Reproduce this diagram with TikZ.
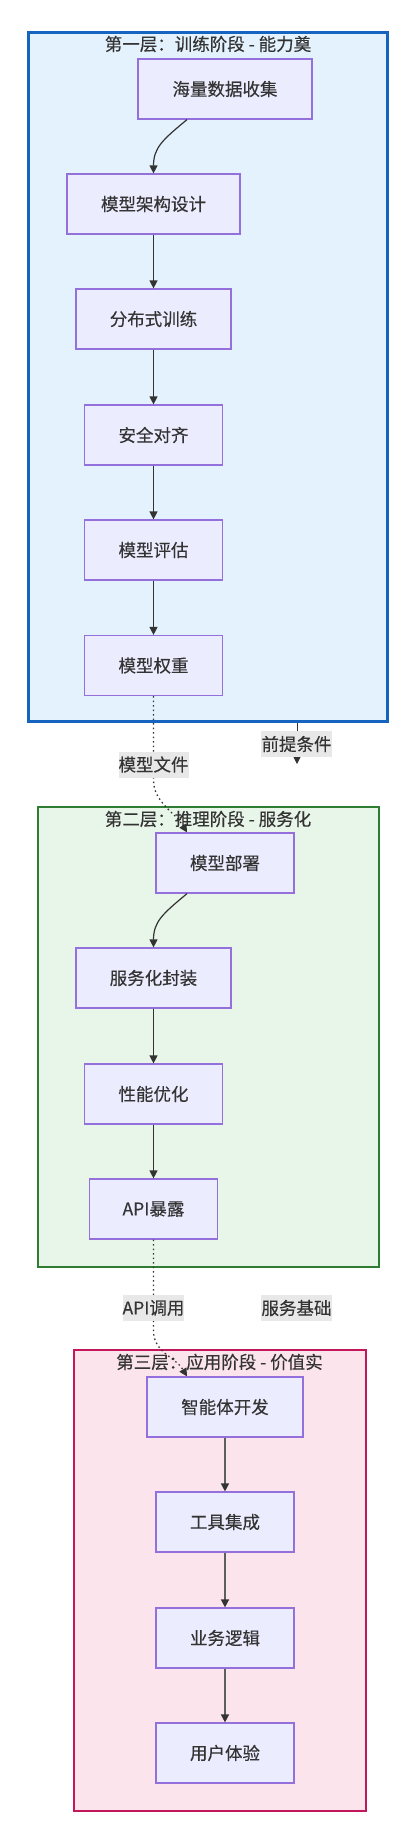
\documentclass[tikz,border=0pt]{standalone}
\usepackage{fontspec}
\setmainfont[UprightFeatures={FakeBold=0.3}]{Noto Sans CJK SC}
\usetikzlibrary{arrows.meta}
\definecolor{nodefill}{HTML}{ECECFF}
\definecolor{nodedraw}{HTML}{9370DB}
\definecolor{txt}{HTML}{333333}
\definecolor{bluefill}{HTML}{E3F2FD}
\definecolor{bluedraw}{HTML}{1565C0}
\definecolor{greenfill}{HTML}{E8F5E9}
\definecolor{greendraw}{HTML}{2E7D32}
\definecolor{pinkfill}{HTML}{FCE4EC}
\definecolor{pinkdraw}{HTML}{C2185B}
\definecolor{lblfill}{HTML}{E8E8E8}
\definecolor{grayline}{HTML}{5E5E5E}
\begin{document}
\begin{tikzpicture}[x=1pt,y=-1pt,
  font=\fontsize{17.5}{21}\selectfont, text=txt,
  stepbox/.style={draw=nodedraw, fill=nodefill, line width=1.2pt, minimum height=60pt, inner sep=0pt},
  flow/.style={draw=txt, line width=1.2pt, -{Triangle[length=8pt,width=8pt]}},
  grayflow/.style={draw=grayline, line width=1.4pt, -{Triangle[length=8pt,width=8pt,color=txt]}},
  dotflow/.style={draw=txt, line width=1.3pt, dash pattern=on 1.5pt off 3pt, -{Triangle[length=8pt,width=8pt]}},
  elabel/.style={fill=lblfill, inner sep=0pt, minimum height=26pt}
]
\useasboundingbox (0,0) rectangle (417,1842);
\fill[white] (0,0) rectangle (417,1842);

% layers
\node[draw=bluedraw, fill=bluefill, line width=3pt, minimum width=359pt, minimum height=689pt, inner sep=0pt] (L1) at (208,377) {};
\node[draw=greendraw, fill=greenfill, line width=2pt, minimum width=341pt, minimum height=460pt, inner sep=0pt] (L2) at (208,1036.5) {};
\node[draw=pinkdraw, fill=pinkfill, line width=2pt, minimum width=292pt, minimum height=461pt, inner sep=0pt] (L3) at (219.5,1580) {};

\node (T1) at (208,44) {第一层：训练阶段 - 能力奠};
\node (T2) at (208,819) {第二层：推理阶段 - 服务化};
\node (T3) at (219.5,1362) {第三层：应用阶段 - 价值实};

% steps
\node[stepbox, minimum width=174pt] (A) at (225,89) {海量数据收集};
\node[stepbox, minimum width=173pt] (B) at (153.5,204) {模型架构设计};
\node[stepbox, minimum width=155pt] (C) at (153.5,319) {分布式训练};
\node[stepbox, minimum width=138pt] (D) at (153.5,435) {安全对齐};
\node[stepbox, minimum width=138pt] (E) at (153.5,550) {模型评估};
\node[stepbox, minimum width=138pt] (F) at (153.5,665.5) {模型权重};

\node[stepbox, minimum width=138pt] (G) at (225,863) {模型部署};
\node[stepbox, minimum width=155pt] (H) at (153.5,978) {服务化封装};
\node[stepbox, minimum width=138pt] (I) at (153.5,1094) {性能优化};
\node[stepbox, minimum width=128pt] (J) at (153.5,1209) {API暴露};

\node[stepbox, minimum width=156pt] (K) at (225,1407) {智能体开发};
\node[stepbox, minimum width=138pt] (L) at (225,1522) {工具集成};
\node[stepbox, minimum width=138pt] (M) at (225,1638) {业务逻辑};
\node[stepbox, minimum width=138pt] (N) at (225,1753) {用户体验};

% edges layer 1
\draw[flow] ([xshift=-38pt]A.south) .. controls +(-24,20) and +(0,-26) .. (B.north);
\draw[flow] (B) -- (C);
\draw[flow] (C) -- (D);
\draw[flow] (D) -- (E);
\draw[flow] (E) -- (F);

% layer 1 to 2
\draw[dotflow] (F.south) -- ++(0,84) .. controls +(0,22) and +(-12,-20) .. ([xshift=-38pt]G.north);
\coordinate (P1end) at (297,764);
\draw[flow, line width=1pt] (L1.south -| P1end) -- (P1end);

% edges layer 2
\draw[flow] ([xshift=-38pt]G.south) .. controls +(-24,20) and +(0,-26) .. (H.north);
\draw[flow] (H) -- (I);
\draw[flow] (I) -- (J);

% layer 2 to 3
\draw[dotflow] (J.south) -- ++(0,91) .. controls +(0,22) and +(-12,-20) .. ([xshift=-38pt]K.north);

% edges layer 3
\draw[grayflow] (K) -- (L);
\draw[grayflow] (L) -- (M);
\draw[grayflow] (M) -- (N);

% edge labels
\node[elabel, minimum width=70pt] (LF) at (153.5,764.5) {模型文件};
\node[elabel, minimum width=71pt] (LP) at (296.5,744) {前提条件};
\node[elabel, minimum width=61pt] (LA) at (153.5,1308) {API调用};
\node[elabel, minimum width=71pt] (LS) at (296.5,1308) {服务基础};
\end{tikzpicture}
\end{document}
